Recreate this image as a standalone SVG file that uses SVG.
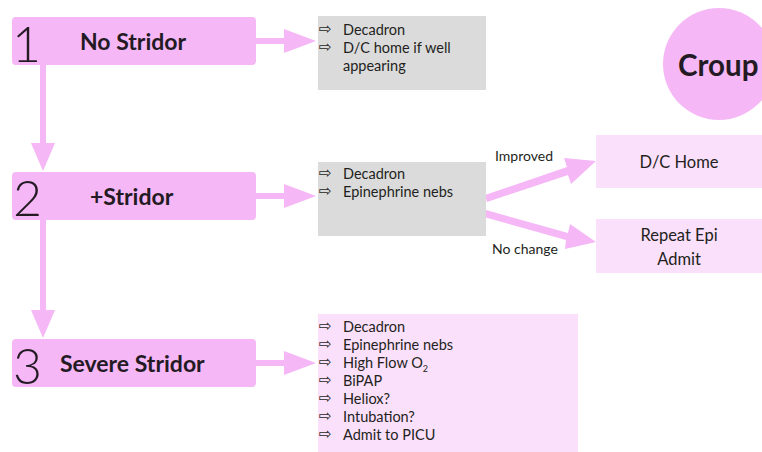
<svg xmlns="http://www.w3.org/2000/svg" width="762" height="452" viewBox="0 0 762 452">
  <style>
    .step { fill: #f5b7f5; }
    .info { fill: #dbdbdc; }
    .pale { fill: #fbe0fb; }
    .flow { fill: #f5b7f5; }
    .num { font-family: Lato, "Liberation Sans", sans-serif; font-weight: 300; font-size: 50px; fill: #231a23; }
    .title { font-family: Lato, "Liberation Sans", sans-serif; font-weight: 700; font-size: 23px; fill: #231a23; }
    .item { font-family: Lato, "Liberation Sans", sans-serif; font-size: 14.5px; fill: #231f20; }
    .bullet { font-family: "DejaVu Sans", sans-serif; font-size: 15px; fill: #231f20; }
    .lbl { font-family: Lato, "Liberation Sans", sans-serif; font-size: 14px; fill: #231f20; }
    .big { font-family: Lato, "Liberation Sans", sans-serif; font-size: 16.5px; fill: #231f20; text-anchor: middle; }
  </style>
  <defs>
    <!-- horizontal block arrow, tail at 0, tip at 60 -->
    <polygon id="harrow" points="0,-3 28,-3 28,-12 60,0 28,12 28,3 0,3"/>
  </defs>

  <g id="connectors" class="flow">
    <use href="#harrow" x="256" y="41"/>
    <use href="#harrow" x="256" y="196"/>
    <use href="#harrow" x="256" y="363"/>
    <!-- vertical arrows between steps -->
    <polygon points="40,65 46,65 46,143 55,143 43,171 31,143 40,143"/>
    <polygon points="40,220 46,220 46,310 55,310 43,338 31,310 40,310"/>
    <!-- branches to outcomes -->
    <polygon points="485,195 567,167 564,158 596,161 571,184 568,175 487,202"/>
    <polygon points="486,210 568,233 570,224 596,242 565,249 566,240 484,217"/>
  </g>

  <g id="croup">
    <circle cx="719" cy="64" r="56" fill="#f5b7f5"/>
    <text x="678" y="76" font-family="Lato, 'Liberation Sans', sans-serif" font-weight="700" font-size="29.5" fill="#231a23">Croup</text>
  </g>

  <g id="step1">
    <rect class="step" x="12" y="17" width="244" height="48" rx="4"/>
    <text class="num" x="12" y="62">1</text>
    <text class="title" x="80" y="50">No Stridor</text>
  </g>

  <g id="step2">
    <rect class="step" x="12" y="172" width="244" height="48" rx="4"/>
    <text class="num" x="13" y="216">2</text>
    <text class="title" x="90" y="205">+Stridor</text>
  </g>

  <g id="step3">
    <rect class="step" x="12" y="339" width="244" height="48" rx="4"/>
    <text class="num" x="13" y="384">3</text>
    <text class="title" x="60" y="372">Severe Stridor</text>
  </g>

  <g id="plan1">
    <rect class="info" x="318" y="16" width="168" height="74"/>
    <text class="bullet" x="319" y="34">⇨</text>
    <text class="item" x="343" y="35">Decadron</text>
    <text class="bullet" x="319" y="52">⇨</text>
    <text class="item" x="343" y="53">D/C home if well</text>
    <text class="item" x="343" y="71">appearing</text>
  </g>

  <g id="plan2">
    <rect class="info" x="318" y="162" width="168" height="74"/>
    <text class="bullet" x="319" y="178">⇨</text>
    <text class="item" x="343" y="179">Decadron</text>
    <text class="bullet" x="319" y="196">⇨</text>
    <text class="item" x="343" y="197">Epinephrine nebs</text>
  </g>

  <g id="labels">
    <text class="lbl" x="495" y="161">Improved</text>
    <text class="lbl" x="492" y="254">No change</text>
  </g>

  <g id="home">
    <rect class="pale" x="596" y="135" width="166" height="53"/>
    <text class="big" x="679" y="168">D/C Home</text>
  </g>

  <g id="admit">
    <rect class="pale" x="596" y="219" width="166" height="54"/>
    <text class="big" x="679" y="241">Repeat Epi</text>
    <text class="big" x="679" y="265">Admit</text>
  </g>

  <g id="plan3">
    <rect class="pale" x="318" y="314" width="260" height="138"/>
    <text class="bullet" x="319" y="331">⇨</text>
    <text class="item" x="343" y="332">Decadron</text>
    <text class="bullet" x="319" y="349">⇨</text>
    <text class="item" x="343" y="350">Epinephrine nebs</text>
    <text class="bullet" x="319" y="367">⇨</text>
    <text class="item" x="343" y="368">High Flow O<tspan font-size="9" dy="4">2</tspan></text>
    <text class="bullet" x="319" y="385">⇨</text>
    <text class="item" x="343" y="386">BiPAP</text>
    <text class="bullet" x="319" y="403">⇨</text>
    <text class="item" x="343" y="404">Heliox?</text>
    <text class="bullet" x="319" y="421">⇨</text>
    <text class="item" x="343" y="422">Intubation?</text>
    <text class="bullet" x="319" y="439">⇨</text>
    <text class="item" x="343" y="440">Admit to PICU</text>
  </g>
</svg>
